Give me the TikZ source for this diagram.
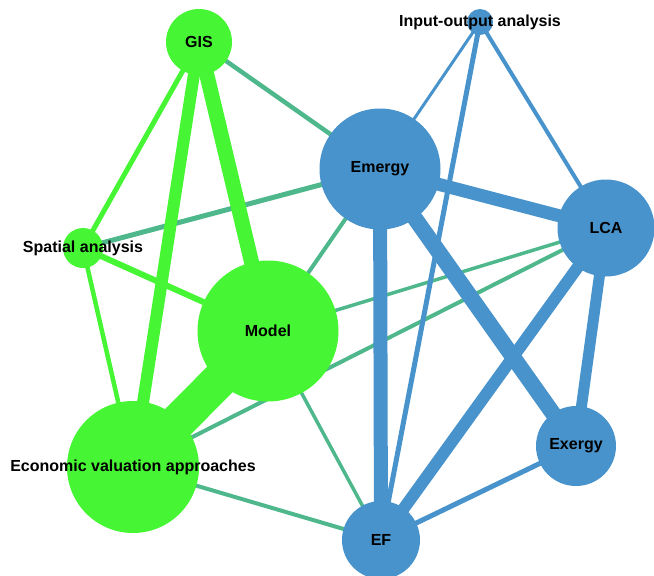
\documentclass[tikz,border=0pt]{standalone}
\usepackage{fontspec}
\setmainfont{Liberation Sans}
\usetikzlibrary{backgrounds}
\definecolor{vgreen}{RGB}{70,246,52}
\definecolor{vblue}{RGB}{72,147,203}
\definecolor{vteal}{RGB}{78,184,140}
\begin{document}
\begin{tikzpicture}[x=1pt,y=-1pt, line cap=butt,
  font=\fontsize{16}{19}\selectfont\bfseries,
  gnode/.style={circle,fill=vgreen,inner sep=0pt,minimum size=#1},
  bnode/.style={circle,fill=vblue,inner sep=0pt,minimum size=#1},
  gedge/.style={draw=vgreen,line width=#1},
  bedge/.style={draw=vblue,line width=#1},
  tedge/.style={draw=vteal,line width=#1}]
\useasboundingbox (0,0) rectangle (654,576);
% nodes
\node[gnode=66pt,label=center:GIS] (gis) at (199,42) {};
\node[bnode=26pt,label=center:Input-output analysis] (io) at (480,22) {};
\node[bnode=121pt,label=center:Emergy] (emergy) at (380,169) {};
\node[bnode=97pt,label=center:LCA] (lca) at (606,228) {};
\node[gnode=40pt,label=center:Spatial analysis] (spatial) at (83,248) {};
\node[gnode=141pt,label=center:Model] (model) at (268,331) {};
\node[gnode=132pt,label=center:Economic valuation approaches] (econ) at (133,467) {};
\node[bnode=80pt,label=center:Exergy] (exergy) at (576,446) {};
\node[bnode=78pt,label=center:EF] (ef) at (381,540) {};
% edges
\begin{scope}[on background layer]
\path[tedge=4.5pt] (gis.center) -- (emergy.center);
\path[tedge=5pt] (spatial.center) -- (emergy.center);
\path[tedge=4pt] (model.center) -- (emergy.center);
\path[tedge=3.5pt] (model.center) -- (lca.center);
\path[tedge=4pt] (econ.center) -- (lca.center);
\path[tedge=3.5pt] (model.center) -- (ef.center);
\path[tedge=4pt] (econ.center) -- (ef.center);
\path[gedge=5pt] (gis.center) -- (spatial.center);
\path[gedge=12pt] (gis.center) -- (econ.center);
\path[gedge=15pt] (gis.center) -- (model.center);
\path[gedge=6pt] (spatial.center) -- (model.center);
\path[gedge=4.5pt] (spatial.center) -- (econ.center);
\path[gedge=36pt] (model.center) -- (econ.center);
\path[bedge=3pt] (io.center) -- (emergy.center);
\path[bedge=4pt] (io.center) -- (lca.center);
\path[bedge=5pt] (io.center) -- (ef.center);
\path[bedge=13pt] (emergy.center) -- (lca.center);
\path[bedge=14pt] (emergy.center) -- (ef.center);
\path[bedge=16pt] (emergy.center) -- (exergy.center);
\path[bedge=11pt] (lca.center) -- (exergy.center);
\path[bedge=12pt] (lca.center) -- (ef.center);
\path[bedge=5pt] (exergy.center) -- (ef.center);
\end{scope}
\end{tikzpicture}
\end{document}
